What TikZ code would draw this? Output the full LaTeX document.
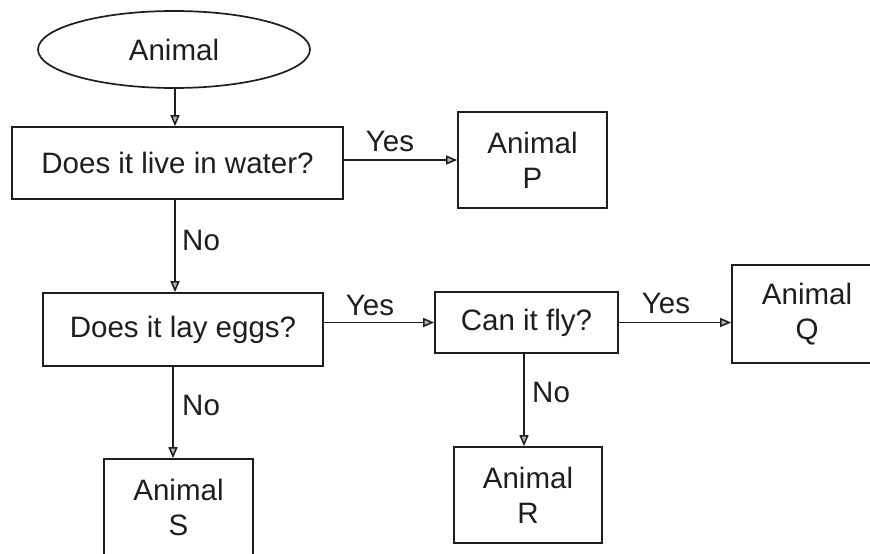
\documentclass[tikz,border=0pt]{standalone}
\usepackage{fontspec}
\setmainfont{Liberation Sans}
\usetikzlibrary{arrows.meta,shapes.geometric}
\definecolor{ink}{HTML}{1E1E1E}
\begin{document}
\begin{tikzpicture}[x=1pt,y=-1pt,
  txt/.style={font=\fontsize{29.5pt}{35pt}\selectfont, text=ink},
  box/.style={txt, draw=ink, line width=1.7pt, inner sep=0pt, align=center, rectangle},
  oval/.style={txt, draw=ink, line width=1.7pt, inner sep=0pt, ellipse},
  lbl/.style={txt, inner sep=0pt},
  conn/.style={draw=ink, line width=1.5pt, -{Triangle[length=11pt,width=9pt,fill=gray!60]}}
]
\useasboundingbox (0,0) rectangle (870,554);
\fill[white] (0,0) rectangle (870,554);
\clip (0,0) rectangle (870,554);

\node[oval, minimum width=272pt, minimum height=77pt] (start) at (174,49.5) {Animal};
\node[box, minimum width=331pt, minimum height=72pt] (water) at (177.5,163) {Does it live in water?};
\node[box, minimum width=149pt, minimum height=96pt] (P) at (532.5,160) {Animal\\P};
\node[box, minimum width=280pt, minimum height=73pt] (eggs) at (183,329.5) {Does it lay eggs?};
\node[box, minimum width=183pt, minimum height=61pt] (fly) at (526.5,322.5) {Can it fly?};
\node[box, minimum width=150pt, minimum height=98pt] (Q) at (807,314) {Animal\\Q};
\node[box, minimum width=149pt, minimum height=97pt] (S) at (178.5,507.5) {Animal\\S};
\node[box, minimum width=148pt, minimum height=96pt] (R) at (528,495) {Animal\\R};

\coordinate (c1) at (175,0);
\coordinate (c2) at (173,0);
\coordinate (c3) at (524,0);

\draw[conn] (c1 |- start.south) -- (c1 |- water.north);
\draw[conn] (water.east |- P) -- (P.west);
\draw[conn] (c1 |- water.south) -- (c1 |- eggs.north);
\draw[conn] (eggs.east |- fly) -- (fly.west);
\draw[conn] (fly.east) -- (fly.east -| Q.west);
\draw[conn] (c2 |- eggs.south) -- (c2 |- S.north);
\draw[conn] (c3 |- fly.south) -- (c3 |- R.north);

\node[lbl] (y1) at (390,141) {Yes};
\node[lbl] (y2) at (370,305) {Yes};
\node[lbl] (y3) at (666,303) {Yes};
\node[lbl, anchor=west] (n1) at (182,240) {No};
\node[lbl, anchor=west] (n2) at (182,405) {No};
\node[lbl, anchor=west] (n3) at (532,392) {No};
\end{tikzpicture}
\end{document}
